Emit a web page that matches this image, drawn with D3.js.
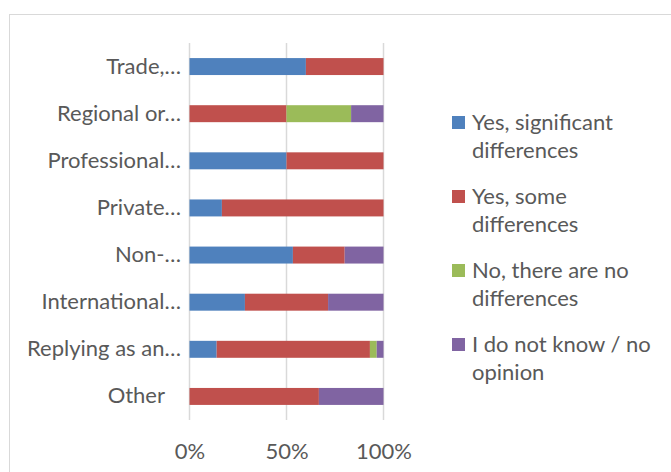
<!DOCTYPE html>
<html>
<head>
<meta charset="utf-8">
<script src="https://cdn.jsdelivr.net/npm/d3@7"></script>
<style>
  body { margin: 0; background: #fff; }
  text { font-family: Lato, "Open Sans", sans-serif; fill: #595959; }
</style>
</head>
<body>
<div id="chart"></div>
<script>
// Categories (as shown, truncated)
const categories = ["Trade,…", "Regional or…", "Professional…", "Private…", "Non-…", "International…", "Replying as an…", "Other"];

// Series values (% of respondents)
const yesSignificant = [60, 0, 50, 16.7, 53.3, 28.6, 14, 0];
const yesSome = [40, 50, 50, 83.3, 26.7, 42.9, 79, 66.7];
const noDifferences = [0, 33.3, 0, 0, 0, 0, 3.5, 0];
const dontKnow = [0, 16.7, 0, 0, 20, 28.6, 3.5, 33.3];

const seriesNames = ["Yes, significant differences", "Yes, some differences", "No, there are no differences", "I do not know / no opinion"];
const legendLines = [["Yes, significant", "differences"], ["Yes, some", "differences"], ["No, there are no", "differences"], ["I do not know / no", "opinion"]];
const colors = ["#4F81BD", "#C0504D", "#9BBB59", "#8064A2"];

const tickValues = [0, 0.5, 1];
const tickLabels = ["0%", "50%", "100%"];

const width = 671, height = 472;
const svg = d3.select("#chart").append("svg")
    .attr("width", width)
    .attr("height", height);

// chart frame
svg.append("rect")
    .attr("x", 9.5).attr("y", 14.5)
    .attr("width", 700).attr("height", 500)
    .attr("fill", "none").attr("stroke", "#d9d9d9");

const table = categories.map((c, i) => ({
    category: c,
    s0: yesSignificant[i], s1: yesSome[i], s2: noDifferences[i], s3: dontKnow[i]
}));
const keys = ["s0", "s1", "s2", "s3"];
const stacked = d3.stack().keys(keys).offset(d3.stackOffsetExpand)(table);

const x = d3.scaleLinear().domain([0, 1]).range([189.5, 383.5]);
const y = d3.scaleBand().domain(categories).range([43, 420])
    .paddingInner(0.64).paddingOuter(0.32);

// gridlines
svg.append("g")
    .selectAll("line")
    .data(tickValues)
    .join("line")
    .attr("x1", d => x(d)).attr("x2", d => x(d))
    .attr("y1", 43).attr("y2", 420)
    .attr("stroke", "#d9d9d9").attr("stroke-width", 1.5);

// bars
svg.append("g")
    .selectAll("g")
    .data(stacked)
    .join("g")
    .attr("fill", (d, i) => colors[i])
    .selectAll("rect")
    .data(d => d)
    .join("rect")
    .attr("x", d => x(d[0]))
    .attr("y", d => y(d.data.category))
    .attr("width", d => x(d[1]) - x(d[0]))
    .attr("height", y.bandwidth());

// x axis labels
const xAxis = svg.append("g")
    .attr("transform", "translate(0,440)")
    .call(d3.axisBottom(x).tickValues(tickValues).tickSize(0)
        .tickFormat((d, i) => tickLabels[i]));
xAxis.select(".domain").remove();
xAxis.selectAll("text")
    .attr("font-size", 22)
    .attr("font-family", "Lato, sans-serif")
    .attr("fill", "#595959")
    .attr("dy", "0.72em");

// category labels
const yAxis = svg.append("g")
    .attr("transform", "translate(181,0)")
    .call(d3.axisLeft(y).tickSize(0).tickPadding(0));
yAxis.select(".domain").remove();
yAxis.selectAll("text")
    .attr("font-size", 22)
    .attr("font-family", "Lato, sans-serif")
    .attr("fill", "#595959")
    .attr("x", d => d.endsWith("…") ? 0 : -16);

// legend
const legend = svg.append("g")
    .selectAll("g")
    .data(seriesNames)
    .join("g")
    .attr("transform", (d, i) => `translate(452,${122.5 + i * 74})`);
legend.append("rect")
    .attr("y", -6.5)
    .attr("width", 13).attr("height", 13)
    .attr("fill", (d, i) => colors[i]);
legend.append("text")
    .attr("x", 20)
    .attr("font-size", 22)
    .selectAll("tspan")
    .data((d, i) => legendLines[i])
    .join("tspan")
    .attr("x", 20)
    .attr("y", (d, j) => 7 + j * 28)
    .text(d => d);
</script>
</body>
</html>
